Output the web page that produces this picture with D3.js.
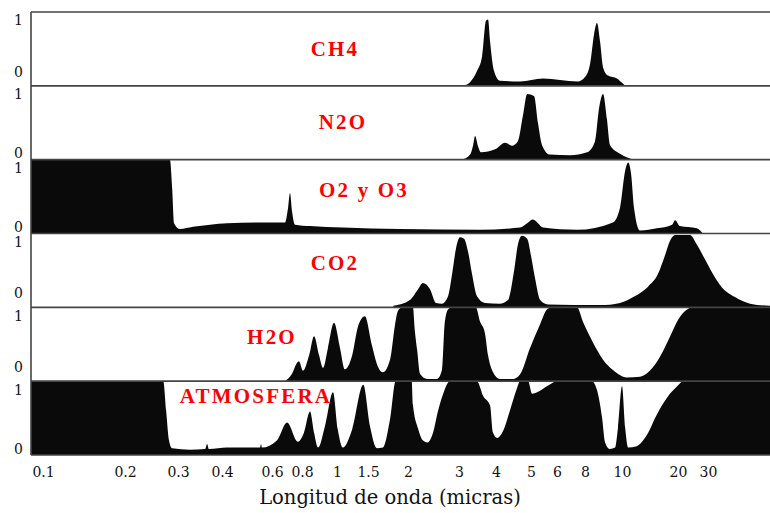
<!DOCTYPE html>
<html>
<head>
<meta charset="utf-8">
<script src="https://cdn.jsdelivr.net/npm/d3@7"></script>
<style>
  body { margin: 0; background: #fff; }
  svg { display: block; }
</style>
</head>
<body>
<div id="chart"></div>
<script>
// marcas del eje x (micras)
const tickValues = [0.1, 0.2, 0.3, 0.4, 0.6, 0.8, 1, 1.5, 2, 3, 4, 5, 6, 8, 10, 20, 30];
const tickLabels = ["0.1", "0.2", "0.3", "0.4", "0.6", "0.8", "1", "1.5", "2", "3", "4", "5", "6", "8", "10", "20", "30"];

const panelNames = ["CH4", "N2O", "O2 y O3", "CO2", "H2O", "ATMOSFERA"];

// absorcion (0-1) vs longitud de onda
const ch4W = [3.09, 3.27, 3.45, 3.59, 3.70, 3.76, 3.82, 3.94, 4.10, 4.66, 5.44, 6.19, 7.44, 8.0, 8.25, 8.45, 8.60, 8.76, 8.92, 9.19, 9.70, 10.1, 10.4];
const ch4V = [0, 0.05, 0.2, 0.4, 0.88, 0.9, 0.6, 0.2, 0.07, 0.06, 0.1, 0.08, 0.06, 0.12, 0.3, 0.7, 0.85, 0.6, 0.25, 0.14, 0.1, 0.03, 0];

const n2oW = [3.07, 3.27, 3.35, 3.40, 3.48, 3.56, 3.97, 4.24, 4.43, 4.60, 4.75, 4.88, 5.11, 5.25, 5.40, 5.71, 6.86, 8.10, 8.50, 8.71, 8.92, 9.13, 9.30, 9.88, 11.5];
const n2oV = [0, 0.07, 0.2, 0.32, 0.18, 0.1, 0.14, 0.23, 0.19, 0.25, 0.6, 0.89, 0.86, 0.5, 0.2, 0.07, 0.06, 0.1, 0.25, 0.7, 0.89, 0.55, 0.2, 0.08, 0];

const o3W = [0.09, 0.282, 0.287, 0.291, 0.304, 0.331, 0.417, 0.544, 0.680, 0.700, 0.713, 0.727, 0.748, 0.842, 1.08, 1.89, 3.53, 4.66, 4.91, 5.07, 5.25, 5.44, 7.37, 9.47, 9.88, 10.4, 10.8, 11.2, 11.6, 12.5, 15.4, 18.6, 19.3, 20.5, 25.8, 28.0];
const o3V = [1, 1, 0.6, 0.14, 0.06, 0.09, 0.14, 0.15, 0.15, 0.35, 0.55, 0.3, 0.12, 0.1, 0.08, 0.06, 0.05, 0.08, 0.15, 0.19, 0.14, 0.08, 0.05, 0.15, 0.35, 0.85, 0.96, 0.8, 0.35, 0.04, 0.07, 0.12, 0.18, 0.1, 0.07, 0];

const co2W = [1.80, 2.03, 2.17, 2.25, 2.38, 2.50, 2.62, 2.75, 2.84, 2.93, 3.02, 3.12, 3.22, 3.32, 3.45, 3.67, 4.10, 4.32, 4.49, 4.60, 4.72, 4.88, 5.0, 5.14, 5.33, 5.63, 8.76, 9.88, 11.7, 13.8, 15.6, 17.0, 18.1, 19.3, 23.5, 25.8, 28.8, 32.1, 36.3, 43.4, 53.3, 70];
const co2V = [0.02, 0.1, 0.25, 0.33, 0.25, 0.06, 0.05, 0.15, 0.45, 0.8, 0.95, 0.93, 0.75, 0.45, 0.15, 0.06, 0.05, 0.1, 0.5, 0.85, 0.97, 0.93, 0.7, 0.4, 0.1, 0.04, 0.03, 0.06, 0.15, 0.28, 0.45, 0.7, 0.9, 0.98, 0.98, 0.85, 0.65, 0.45, 0.27, 0.14, 0.05, 0.02];

const h2oW = [0.680, 0.727, 0.763, 0.777, 0.805, 0.837, 0.864, 0.892, 0.915, 0.944, 0.981, 1.04, 1.11, 1.22, 1.32, 1.44, 1.54, 1.61, 1.67, 1.76, 1.82, 1.86, 1.92, 2.08, 2.11, 2.15, 2.20, 2.33, 2.52, 2.62, 2.68, 2.75, 2.84, 3.42, 3.53, 3.67, 3.76, 3.91, 4.10, 4.46, 4.66, 4.97, 5.33, 5.59, 5.79, 7.37, 7.84, 8.40, 8.92, 9.47, 10.6, 12.5, 14.1, 16.0, 18.1, 20, 22.6, 24.2, 70];
const h2oV = [0, 0.1, 0.25, 0.27, 0.14, 0.35, 0.61, 0.35, 0.18, 0.45, 0.79, 0.45, 0.16, 0.35, 0.75, 0.88, 0.5, 0.2, 0.12, 0.3, 0.75, 0.95, 1, 1, 0.7, 0.43, 0.1, 0.03, 0.03, 0.15, 0.8, 0.97, 1, 1, 0.81, 0.65, 0.35, 0.12, 0.03, 0.03, 0.09, 0.45, 0.77, 0.97, 1, 1, 0.8, 0.52, 0.29, 0.15, 0.05, 0.06, 0.14, 0.33, 0.6, 0.83, 0.97, 1, 1];

const atmW = [0.09, 0.268, 0.274, 0.280, 0.287, 0.324, 0.358, 0.363, 0.367, 0.417, 0.544, 0.549, 0.553, 0.630, 0.693, 0.770, 0.810, 0.842, 0.864, 0.886, 0.927, 0.975, 1.01, 1.08, 1.22, 1.41, 1.52, 1.60, 1.67, 1.76, 1.83, 2.06, 2.08, 2.17, 2.25, 2.34, 2.44, 2.54, 2.64, 2.79, 3.45, 3.62, 3.82, 3.91, 4.03, 4.18, 4.37, 4.57, 4.66, 4.91, 5.04, 5.22, 5.59, 6.0, 8.34, 8.60, 8.87, 9.03, 9.30, 9.59, 9.76, 10, 10.4, 10.8, 12.0, 13.6, 15.4, 17.5, 19.8, 21.4, 70];
const atmV = [1, 1, 0.6, 0.2, 0.09, 0.07, 0.08, 0.15, 0.08, 0.1, 0.1, 0.15, 0.1, 0.2, 0.44, 0.18, 0.3, 0.59, 0.3, 0.1, 0.4, 0.85, 0.35, 0.1, 0.35, 0.95, 0.4, 0.09, 0.1, 0.5, 1, 1, 0.68, 0.35, 0.2, 0.17, 0.3, 0.6, 0.82, 1, 1, 0.8, 0.67, 0.3, 0.23, 0.32, 0.6, 0.9, 1, 1, 0.83, 0.85, 0.93, 1, 1, 0.88, 0.5, 0.17, 0.08, 0.1, 0.37, 0.93, 0.37, 0.1, 0.12, 0.27, 0.55, 0.78, 0.93, 1, 1];

const seriesW = [ch4W, n2oW, o3W, co2W, h2oW, atmW];
const seriesV = [ch4V, n2oV, o3V, co2V, h2oV, atmV];

// dimensiones
const width = 770, height = 513;
const margin = { top: 12, right: 0, bottom: 58, left: 31 };
const innerW = width - margin.left - margin.right;
const innerH = height - margin.top - margin.bottom;
const panelH = innerH / panelNames.length;

// el eje de la figura original no es logaritmico puro: se calibra por tramos
const axisWl = [0.09].concat(tickValues, [70]);
const axisPx = [0, 12, 94, 147, 191, 241, 271, 306, 337, 377, 428, 465, 500, 526, 554, 591, 647, 677, 739];

const x = d3.scaleLog()
  .domain(axisWl)
  .range(axisPx.map(p => margin.left + p));

const y = d3.scaleLinear()
  .domain([0, 1])
  .range([panelH, 0]);

const svg = d3.select("#chart")
  .append("svg")
  .attr("width", width)
  .attr("height", height);

const area = d3.area()
  .x(d => x(d.w))
  .y0(panelH)
  .y1(d => y(d.v))
  .curve(d3.curveMonotoneX);

// donde cae el "0" de cada panel
const zeroLift = [13.5, 7, 6, 14, 14, 6];
const labelPos = [[335, 44], [343, 43], [364, 37.5], [335, 36.5], [272, 36.7], [256, 22]];

svg.append("defs").append("clipPath")
  .attr("id", "panel-clip")
  .append("rect")
  .attr("x", margin.left)
  .attr("y", 0)
  .attr("width", innerW)
  .attr("height", panelH);

panelNames.forEach((name, i) => {
  const top = margin.top + i * panelH;
  const g = svg.append("g").attr("transform", `translate(0,${top})`);
  const data = seriesW[i].map((w, k) => ({ w: w, v: seriesV[i][k] }));

  g.append("path")
    .datum(data)
    .attr("clip-path", "url(#panel-clip)")
    .attr("fill", "#0a0a0a")
    .attr("d", area);

  // etiquetas 0 / 1
  const yLab = d3.scaleLinear()
    .domain([0, 1])
    .range([panelH - zeroLift[i], 8.5]);
  const ax = g.append("g")
    .attr("transform", `translate(${margin.left},0)`)
    .call(d3.axisLeft(yLab).tickValues([0, 1]).tickSize(0).tickPadding(8).tickFormat(d3.format("d")));
  ax.select(".domain").remove();
  ax.selectAll("text")
    .attr("font-family", "DejaVu Serif, serif")
    .attr("font-size", 14)
    .attr("fill", "#111");

  g.append("text")
    .attr("x", labelPos[i][0])
    .attr("y", labelPos[i][1])
    .attr("text-anchor", "middle")
    .attr("font-family", "Liberation Serif, Times New Roman, serif")
    .attr("font-weight", "bold")
    .attr("font-size", 21)
    .attr("letter-spacing", 2.2)
    .attr("fill", "#ff0000")
    .text(name);
});

// lineas del marco
const frame = svg.append("g")
  .attr("stroke", "#444")
  .attr("stroke-width", 1.6);
d3.range(panelNames.length + 1).forEach(i => {
  const yy = margin.top + i * panelH;
  frame.append("line")
    .attr("x1", margin.left).attr("x2", width)
    .attr("y1", yy).attr("y2", yy);
});
frame.append("line")
  .attr("x1", margin.left).attr("x2", margin.left)
  .attr("y1", margin.top).attr("y2", margin.top + innerH);

// eje x
const xAxis = svg.append("g")
  .attr("transform", `translate(0,${margin.top + innerH})`)
  .call(d3.axisBottom(x).tickValues(tickValues).tickSize(0).tickPadding(12)
    .tickFormat((d, i) => tickLabels[i]));
xAxis.select(".domain").remove();
xAxis.selectAll("text")
  .attr("font-family", "DejaVu Serif, serif")
  .attr("font-size", 14)
  .attr("fill", "#111");

svg.append("text")
  .attr("x", 390)
  .attr("y", 504)
  .attr("text-anchor", "middle")
  .attr("font-family", "DejaVu Serif, serif")
  .attr("font-size", 19.5)
  .attr("fill", "#111")
  .text("Longitud de onda (micras)");
</script>
</body>
</html>
